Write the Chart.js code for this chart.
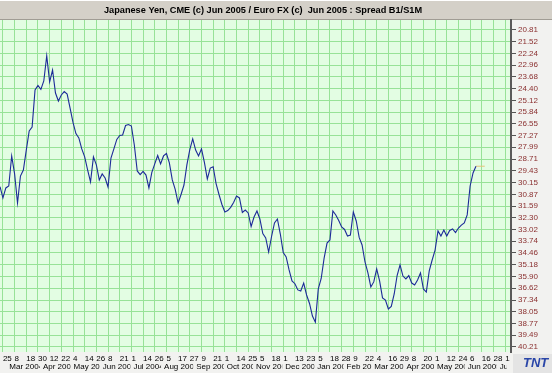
<!DOCTYPE html>
<html>
<head>
<meta charset="utf-8">
<script src="https://cdn.jsdelivr.net/npm/chart.js@4.4.1/dist/chart.umd.min.js"></script>
<style>
    html, body { margin: 0; padding: 0; background: #f2f2f0; }
    #wrap { width: 552px; height: 373px; }
</style>
</head>
<body>
<div id="wrap"><canvas id="spreadChart" width="552" height="373"></canvas></div>
<script>
// Japanese Yen (Jun 2005) / Euro FX (Jun 2005) spread, one value every 2 sessions
const spread = [
    30.40, 31.09, 30.48, 30.36, 28.52, 29.62, 31.40, 29.75, 29.38, 28.16,
    26.99, 26.75, 24.48, 24.21, 24.45, 23.93, 22.40, 23.99, 23.26, 24.67,
    25.16, 24.79, 24.58, 24.73, 25.59, 26.47, 27.15, 27.42, 28.09, 28.58,
    29.38, 30.11, 28.58, 29.07, 29.99, 29.62, 29.87, 30.42, 28.65, 28.09,
    27.51, 27.27, 27.24, 26.66, 26.60, 26.69, 27.85, 29.44, 29.66, 29.47,
    29.69, 30.48, 29.53, 29.01, 28.49, 29.01, 28.52, 28.37, 28.95, 29.99,
    30.57, 31.40, 30.88, 30.30, 29.07, 28.13, 27.48, 28.16, 28.52, 28.09,
    28.92, 29.93, 29.26, 29.18, 30.21, 30.88, 31.49, 31.95, 31.86, 31.67,
    31.37, 30.97, 31.09, 31.98, 31.83, 32.01, 32.84, 32.26, 31.89, 32.38,
    33.27, 33.54, 34.40, 33.45, 32.62, 32.38, 33.30, 34.43, 34.70, 35.50,
    36.17, 36.34, 36.72, 36.79, 36.30, 37.03, 37.55, 38.32, 38.70, 36.66,
    36.02, 34.77, 33.85, 33.66, 31.89, 32.13, 32.47, 32.87, 33.02, 33.42,
    33.36, 31.95, 32.50, 33.51, 33.97, 35.01, 35.68, 36.54, 36.23, 35.44,
    36.17, 37.21, 37.34, 37.89, 37.73, 36.97, 35.84, 35.19, 35.87, 36.05,
    35.84, 36.30, 36.42, 36.11, 35.68, 36.66, 36.85, 35.56, 34.89, 34.28,
    33.11, 33.42, 33.05, 33.42, 33.08, 32.99, 33.21, 32.93, 32.75, 32.62,
    32.13, 30.36, 29.56, 29.15
];
const firstSession = -2;   // session index of the first value (Feb 25 2004 = 0)
const sessionStep = 2;

// bottom axis: a day label every 8 sessions, month names under them
const dayLabels = ['25', '8', '18', '30', '12', '22', '4', '14', '26', '8', '21', '1',
    '14', '26', '5', '17', '27', '9', '21', '1', '14', '25', '5', '18', '1', '13', '23',
    '5', '18', '28', '9', '22', '4', '16', '29', '8', '20', '1', '12', '24', '6', '16', '28', '1'];
const monthLabels = ['Mar 2004', 'Apr 2004', 'May 2004', 'Jun 2004', 'Jul 2004', 'Aug 2004',
    'Sep 2004', 'Oct 2004', 'Nov 2004', 'Dec 2004', 'Jan 2005', 'Feb 2005', 'Mar 2005',
    'Apr 2005', 'May 2005', 'Jun 2005', 'Jul 2005'];
const monthStart = [3, 26, 47, 67, 88, 109, 131, 152, 172, 192, 214, 234, 253, 275, 296, 317, 339];

// right axis (inverted)
const yTickLabels = ['20.81', '21.52', '22.24', '22.96', '23.68', '24.40', '25.12', '25.84',
    '26.55', '27.27', '27.99', '28.71', '29.43', '30.15', '30.87', '31.59', '32.30', '33.02',
    '33.74', '34.46', '35.18', '35.90', '36.62', '37.34', '38.05', '38.77', '39.49', '40.21'];

const TITLE = 'Japanese Yen, CME (c) Jun 2005 / Euro FX (c)  Jun 2005 : Spread B1/S1M';
const FONT = '"Liberation Sans", Arial, sans-serif';
const PLOT_BG = '#e3fde3';
const GRID = '#98e298';

const points = spread.map((v, j) => ({ x: firstSession + j * sessionStep, y: v }));
const lastX = points[points.length - 1].x;
const lastV = spread[spread.length - 1];

const chromePlugin = {
    id: 'chrome',
    beforeDraw(chart) {
        const { ctx, chartArea: a, width, height } = chart;
        ctx.save();
        ctx.fillStyle = '#f2f2f0';
        ctx.fillRect(0, 0, width, height);
        ctx.fillStyle = '#d4d0c8';
        ctx.fillRect(0, 0, width, a.top);
        ctx.fillStyle = '#ffffff';
        ctx.fillRect(0, 0, width, 1);
        ctx.fillStyle = '#a09c94';
        ctx.fillRect(0, a.top - 1, width, 1);
        ctx.fillStyle = PLOT_BG;
        ctx.fillRect(a.left, a.top, a.right - a.left, a.bottom - a.top);
        ctx.restore();
    },
    afterDraw(chart) {
        const { ctx, chartArea: a } = chart;
        const xs = chart.scales.x;
        ctx.save();
        ctx.fillStyle = '#000';
        ctx.font = 'bold 9.2px ' + FONT;
        ctx.textAlign = 'center';
        ctx.textBaseline = 'middle';
        ctx.fillText(TITLE, 263, 10);

        ctx.font = '8px ' + FONT;
        ctx.textAlign = 'left';
        ctx.textBaseline = 'top';
        monthLabels.forEach((m, i) => {
            const x0 = xs.getPixelForValue(monthStart[i]);
            const x1 = i + 1 < monthLabels.length ? xs.getPixelForValue(monthStart[i + 1]) - 1 : a.right - 4;
            ctx.save();
            ctx.beginPath();
            ctx.rect(x0, a.bottom, x1 - x0, 21);
            ctx.clip();
            ctx.fillText(m, x0 + 2, a.bottom + 11);
            ctx.restore();
        });

        // logo box
        ctx.fillStyle = '#e4e4e4';
        ctx.fillRect(a.right + 2, a.bottom + 2, 39, 19);
        ctx.font = 'italic bold 13px ' + FONT;
        ctx.fillStyle = '#2a46a8';
        ctx.fillText('TNT', a.right + 12, a.bottom + 5);
        ctx.restore();
    }
};

new Chart(document.getElementById('spreadChart'), {
    type: 'line',
    data: {
        datasets: [{
            data: points,
            borderColor: '#1c2a98',
            borderWidth: 1.1,
            pointRadius: 0,
            tension: 0
        }, {
            data: [{ x: lastX, y: lastV }, { x: lastX + 6, y: lastV }],
            borderColor: '#e6c27a',
            borderWidth: 1,
            pointRadius: 0
        }]
    },
    options: {
        responsive: false,
        devicePixelRatio: 1,
        animation: false,
        layout: { padding: { top: 20, left: 0, right: 0, bottom: 0 } },
        plugins: { legend: { display: false }, tooltip: { enabled: false } },
        scales: {
            x: {
                type: 'linear',
                position: 'bottom',
                min: -2,
                max: 348,
                afterBuildTicks: s => { s.ticks = dayLabels.map((_, k) => ({ value: k * 8 })); },
                afterFit: s => { s.height = 21; },
                ticks: {
                    autoSkip: false,
                    maxRotation: 0,
                    align: 'start',
                    padding: 2,
                    color: '#000',
                    font: { size: 8, family: FONT },
                    callback: (v, i) => dayLabels[i]
                },
                grid: { color: GRID, drawTicks: false },
                border: { display: false }
            },
            y: {
                type: 'linear',
                position: 'right',
                reverse: true,
                min: 20.20,
                max: 40.52,
                afterBuildTicks: s => { s.ticks = yTickLabels.map(l => ({ value: parseFloat(l) })); },
                afterFit: s => { s.width = 41; },
                ticks: {
                    autoSkip: false,
                    padding: 2,
                    color: '#8a2f2f',
                    font: { size: 8, family: FONT },
                    callback: (v, i) => yTickLabels[i]
                },
                grid: { color: GRID, tickColor: '#555', tickLength: 5 },
                border: { color: '#5a5a5a', width: 2 }
            }
        }
    },
    plugins: [chromePlugin]
});
</script>
</body>
</html>
